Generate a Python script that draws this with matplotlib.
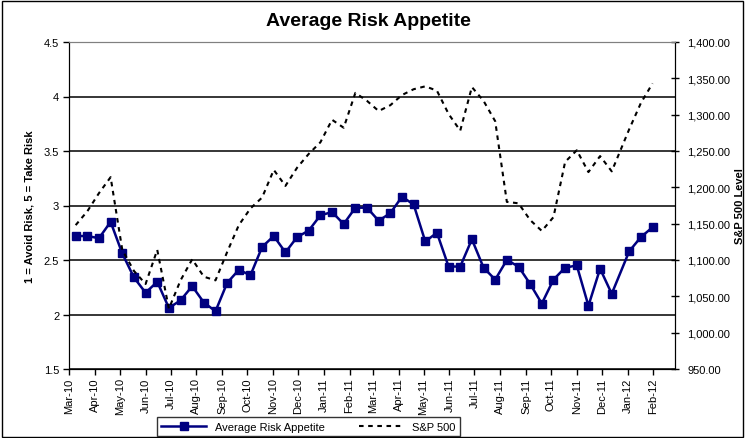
import numpy as np
import pandas as pd
import matplotlib
matplotlib.use("Agg")
import matplotlib.pyplot as plt
import matplotlib.dates as mdates
from matplotlib.ticker import FuncFormatter, MultipleLocator
from matplotlib.patches import Rectangle

plt.rcParams['font.family'] = ['Liberation Sans', 'DejaVu Sans']

# survey dates (bi-weekly, one skipped week at Christmas 2011)
dates = pd.to_datetime([
    "2010-03-09", "2010-03-23", "2010-04-06", "2010-04-20", "2010-05-04",
    "2010-05-18", "2010-06-01", "2010-06-15", "2010-06-29", "2010-07-13",
    "2010-07-27", "2010-08-10", "2010-08-24", "2010-09-07", "2010-09-21",
    "2010-10-05", "2010-10-19", "2010-11-02", "2010-11-16", "2010-11-30",
    "2010-12-14", "2010-12-28", "2011-01-11", "2011-01-25", "2011-02-08",
    "2011-02-22", "2011-03-08", "2011-03-22", "2011-04-05", "2011-04-19",
    "2011-05-03", "2011-05-17", "2011-05-31", "2011-06-14", "2011-06-28",
    "2011-07-12", "2011-07-26", "2011-08-09", "2011-08-23", "2011-09-06",
    "2011-09-20", "2011-10-04", "2011-10-18", "2011-11-01", "2011-11-15",
    "2011-11-29", "2011-12-13", "2012-01-03", "2012-01-17", "2012-01-31",
])

risk_appetite = [
    2.72, 2.72, 2.70, 2.85, 2.56, 2.34, 2.20, 2.30, 2.06, 2.13,
    2.26, 2.11, 2.03, 2.29, 2.41, 2.36, 2.62, 2.72, 2.57, 2.71,
    2.77, 2.91, 2.94, 2.83, 2.98, 2.98, 2.86, 2.93, 3.08, 3.01,
    2.67, 2.75, 2.44, 2.44, 2.69, 2.43, 2.32, 2.50, 2.44, 2.28,
    2.10, 2.32, 2.43, 2.45, 2.08, 2.42, 2.19, 2.58, 2.71, 2.80,
]

sp500 = [
    1148, 1167, 1192, 1214, 1114, 1085, 1067, 1114, 1033, 1072,
    1101, 1077, 1072, 1111, 1148, 1171, 1186, 1224, 1202, 1227,
    1246, 1262, 1293, 1282, 1330, 1319, 1305, 1313, 1327, 1335,
    1339, 1333, 1301, 1278, 1338, 1319, 1291, 1180, 1178, 1155,
    1140, 1159, 1235, 1251, 1221, 1243, 1222, 1280, 1316, 1343,
]

fig = plt.figure(figsize=(7.47, 4.39), dpi=100)
ax = fig.add_axes([69/747, 1-370/439, (675-69)/747, (370-43)/439])
ax2 = ax.twinx()

navy = '#000080'
l1, = ax.plot(dates, risk_appetite, color=navy, lw=1.8, marker='s',
              ms=6, mfc=navy, mec=navy, label='Average Risk Appetite', zorder=3)
l2, = ax2.plot(dates, sp500, color='black', lw=1.5, ls=(0, (2.2, 2.2)),
               label='S&P 500')

# left axis
ax.set_ylim(1.5, 4.5)
ax.yaxis.set_major_locator(MultipleLocator(0.5))
ax.yaxis.set_major_formatter(FuncFormatter(lambda v, p: f'{v:g}'))
ax.grid(axis='y', color='black', lw=1.1)
ax.set_ylabel('1 = Avoid Risk, 5 = Take Risk', fontsize=8, fontweight='bold')
ax.yaxis.set_label_coords(-0.057, 0.5)

# right axis
ax2.set_ylim(950, 1400)
ax2.yaxis.set_major_locator(MultipleLocator(50))
ax2.yaxis.set_major_formatter(FuncFormatter(lambda v, p: f'{v:,.2f}'))
ax2.set_ylabel('S&P 500 Level', fontsize=8, fontweight='bold', va='center')
ax2.yaxis.set_label_coords(1.108, 0.5)

# x axis: month ticks
ax.set_xlim(pd.Timestamp("2010-03-01"), pd.Timestamp("2012-02-27"))
ax.xaxis.set_major_locator(mdates.MonthLocator())
ax.xaxis.set_major_formatter(mdates.DateFormatter('%b-%y'))
for lab in ax.get_xticklabels():
    lab.set_rotation(90)

ax.tick_params(axis='x', labelsize=8, length=4, width=1, direction='out', pad=2)
ax.tick_params(axis='y', labelsize=8, length=4, width=1, direction='out', pad=3)
ax2.tick_params(axis='y', labelsize=8, length=6, width=1, direction='inout', pad=6)

for a in (ax, ax2):
    a.spines['top'].set_color('#808080')
    a.spines['left'].set_color('black')
    a.spines['right'].set_color('black')
    a.spines['bottom'].set_color('black')

fig.text(0.493, 0.952, 'Average Risk Appetite', ha='center', va='center',
         fontsize=14, fontweight='bold')

leg = fig.legend(handles=[l1, l2], loc='lower left',
                 bbox_to_anchor=(157/747, 2/439, (460-157)/747, 24/439),
                 mode='expand', ncol=2, fontsize=8, frameon=True,
                 fancybox=False, edgecolor='black', handlelength=4,
                 borderaxespad=0, columnspacing=3)
leg.get_frame().set_linewidth(1)

# chart border
fig.patches.append(Rectangle((2/747, 1/439), 741/747, 436/439, transform=fig.transFigure,
                             fill=False, edgecolor='black', lw=1))

fig.savefig('out.png', dpi=100)
